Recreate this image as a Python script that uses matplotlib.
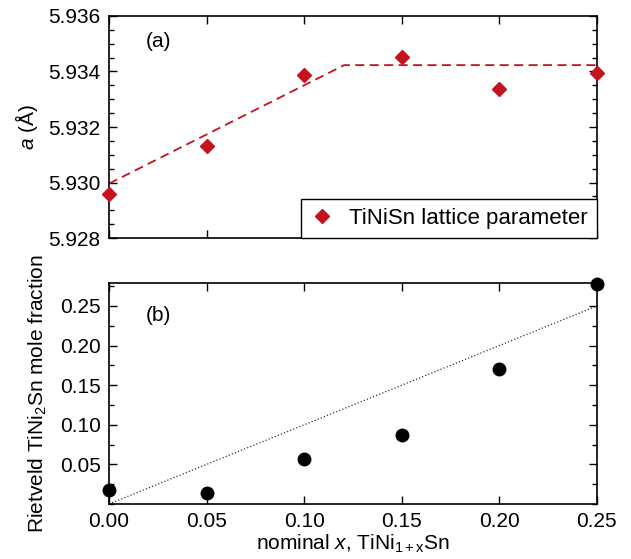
import matplotlib
matplotlib.use('Agg')
import matplotlib.pyplot as plt
from matplotlib.ticker import MultipleLocator, FormatStrFormatter

plt.rcParams['font.family'] = ['Liberation Sans', 'DejaVu Sans']
plt.rcParams['mathtext.fontset'] = 'custom'
plt.rcParams['mathtext.rm'] = 'Liberation Sans'
plt.rcParams['mathtext.it'] = 'Liberation Sans:italic'

# nominal composition
x_nominal = [0.00, 0.05, 0.10, 0.15, 0.20, 0.25]

# (a) lattice parameter of TiNiSn
lattice_a = [5.9296, 5.9313, 5.93387, 5.93453, 5.93337, 5.93393]
fit_x = [0.0, 0.1205, 0.25]
fit_a = [5.92996, 5.93423, 5.93423]

# (b) Rietveld TiNi2Sn mole fraction
mole_frac = [0.0177, 0.0143, 0.0571, 0.0874, 0.170, 0.278]
ideal_x = [0.0, 0.25]
ideal_y = [0.0, 0.25]

red = '#c4121f'

fig = plt.figure(figsize=(6.31, 5.59), dpi=100)
ax1 = fig.add_axes([0.1727, 0.5742, 0.7733, 0.3972])
ax2 = fig.add_axes([0.1727, 0.0984, 0.7733, 0.3953])

ax1.plot(fit_x, fit_a, '--', color=red, lw=1.3, dashes=(5, 3))
ax1.plot(x_nominal, lattice_a, 'D', color=red, ms=7, ls='none',
         label='TiNiSn lattice parameter', clip_on=False, zorder=5)
ax1.set_xlim(0, 0.25)
ax1.set_ylim(5.928, 5.936)
ax1.yaxis.set_major_locator(MultipleLocator(0.002))
ax1.yaxis.set_minor_locator(MultipleLocator(0.0005))
ax1.yaxis.set_major_formatter(FormatStrFormatter('%.3f'))
ax1.xaxis.set_major_locator(MultipleLocator(0.05))
ax1.tick_params(axis='x', labelbottom=False)
ax1.set_ylabel(r'$a$ (Å)', fontsize=15, labelpad=6)
ax1.text(0.075, 0.86, '(a)', transform=ax1.transAxes, fontsize=15)
leg = ax1.legend(loc='lower right', borderaxespad=0, fontsize=16, fancybox=False,
                 edgecolor='black', framealpha=1, handletextpad=0.7,
                 borderpad=0.4, handlelength=1.1)
leg.get_frame().set_linewidth(1.0)

ax2.plot(ideal_x, ideal_y, ':', color='#333333', lw=0.9)
ax2.plot(x_nominal, mole_frac, 'o', color='black', ms=9, ls='none',
         clip_on=False, zorder=5)
ax2.set_xlim(0, 0.25)
ax2.set_ylim(0, 0.279)
ax2.yaxis.set_major_locator(MultipleLocator(0.05))
ax2.yaxis.set_minor_locator(MultipleLocator(0.025))
ax2.yaxis.set_major_formatter(FormatStrFormatter('%.2f'))
ax2.xaxis.set_major_locator(MultipleLocator(0.05))
ax2.xaxis.set_major_formatter(FormatStrFormatter('%.2f'))
ax2.set_yticks([0.05, 0.10, 0.15, 0.20, 0.25])
ax2.set_ylabel(r'Rietveld TiNi$_2$Sn mole fraction', fontsize=15, labelpad=8)
ax2.set_xlabel(r'nominal $x$, TiNi$_{\mathrm{1+x}}$Sn', fontsize=15, labelpad=1)
ax2.text(0.075, 0.83, '(b)', transform=ax2.transAxes, fontsize=15)

for ax in (ax1, ax2):
    for s in ax.spines.values():
        s.set_linewidth(1.2)
    ax.tick_params(which='both', direction='in', top=True, right=True, width=1.0)
    ax.tick_params(which='major', length=6, labelsize=15, pad=6)
    ax.tick_params(which='minor', length=3.5)

fig.savefig('out.png', dpi=100)
